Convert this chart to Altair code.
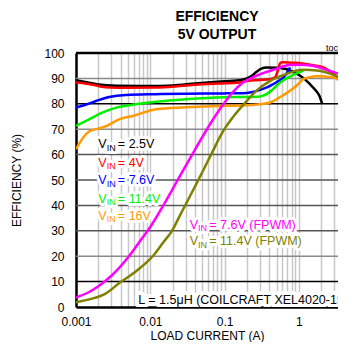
import altair as alt
import pandas as pd

# ---- data ----
black_x = [0.001, 0.0015, 0.002, 0.0035, 0.01, 0.02, 0.04, 0.08, 0.16, 0.2, 0.232, 0.265, 0.3, 0.36, 0.5, 0.67, 0.85, 1.12, 1.4, 1.7, 1.9, 2.05]
black_y = [89.3, 88.3, 87.6, 87.1, 87.0, 87.2, 88.0, 88.7, 89.3, 90.0, 91.0, 92.4, 93.6, 94.3, 94.2, 93.7, 92.5, 90.4, 87.8, 85.1, 83.0, 80.1]

red_x = [0.001, 0.0015, 0.002, 0.0025, 0.005, 0.012, 0.025, 0.04, 0.08, 0.16, 0.2, 0.3, 0.41, 0.48, 0.52, 0.56, 0.6, 0.8, 1.12, 1.7, 2.15, 2.7, 3.2, 3.6, 4.3]
red_y = [88.4, 87.8, 87.0, 86.5, 86.3, 86.4, 87.0, 87.5, 88.0, 88.4, 89.0, 89.4, 89.7, 90.5, 93.0, 96.0, 96.4, 96.2, 95.9, 95.0, 94.3, 92.5, 90.8, 89.7, 88.5]

blue_x = [0.001, 0.0014, 0.00186, 0.0028, 0.0047, 0.012, 0.03, 0.1, 0.2, 0.25, 0.3, 0.41, 0.5, 0.62, 0.7, 0.76]
blue_y = [78.5, 79.8, 81.1, 82.7, 83.5, 83.8, 84.0, 84.1, 84.3, 84.8, 85.5, 87.1, 88.5, 90.4, 92.5, 94.3]

green_x = [0.001, 0.0015, 0.0023, 0.0035, 0.0064, 0.012, 0.03, 0.1, 0.2, 0.28, 0.33, 0.4, 0.56, 0.67, 1.0, 1.15]
green_y = [71.3, 73.9, 76.6, 78.5, 79.8, 80.8, 81.8, 82.6, 82.7, 82.8, 83.2, 84.5, 88.4, 89.9, 92.4, 93.0]

orange_x = [0.001, 0.0012, 0.00154, 0.002, 0.0026, 0.0038, 0.0058, 0.012, 0.03, 0.1, 0.2, 0.3, 0.41, 0.55, 0.76, 1.0, 1.14, 1.4, 1.74, 2.9, 3.5, 4.3]
orange_y = [62.1, 66.0, 69.3, 70.2, 71.3, 73.9, 75.2, 77.9, 78.6, 79.2, 79.4, 79.8, 80.5, 82.5, 85.1, 88.0, 89.7, 90.5, 90.8, 90.4, 89.3, 87.7]

magenta_x = [0.001, 0.0015, 0.002, 0.003, 0.005, 0.0075, 0.01, 0.015, 0.025, 0.04, 0.0705, 0.1, 0.131, 0.17, 0.265, 0.49, 0.74, 1.0, 1.53, 2.56, 4.3]
magenta_y = [3.7, 5.9, 8.2, 12.3, 19.5, 26.5, 31.5, 40.0, 51.5, 62.0, 74.0, 80.5, 84.8, 88.0, 91.0, 93.7, 95.3, 95.4, 95.0, 93.0, 91.0]

olive_x = [0.001, 0.0016, 0.0025, 0.0039, 0.0065, 0.011, 0.015, 0.0196, 0.025, 0.0426, 0.065, 0.096, 0.14, 0.198, 0.265, 0.41, 0.67, 1.12, 1.88, 3.16, 4.3]
olive_y = [1.9, 3.2, 5.3, 9.6, 14.2, 20.3, 25.5, 30.0, 36.0, 49.0, 59.7, 69.3, 76.0, 81.1, 85.0, 89.0, 91.7, 93.4, 93.0, 91.0, 89.5]

series = [
    ("2.5V", black_x, black_y, "#000000"),
    ("4V", red_x, red_y, "#ff0000"),
    ("7.6V", blue_x, blue_y, "#0000ff"),
    ("11.4V", green_x, green_y, "#00ee00"),
    ("16V", orange_x, orange_y, "#ff9900"),
    ("7.6V FPWM", magenta_x, magenta_y, "#ff00ff"),
    ("11.4V FPWM", olive_x, olive_y, "#808000"),
]

# label text (V, subscript IN, rest), anchor position in data units
label_rest = ["= 2.5V", "= 4V", "= 7.6V", "= 11.4V", "= 16V", "= 7.6V (FPWM)", "= 11.4V (FPWM)"]
label_x = [0.002, 0.002, 0.002, 0.002, 0.002, 0.034, 0.034]
label_y = [64.0, 56.8, 49.9, 42.7, 36.0, 32.4, 25.8]

hgrid_vals = [10, 20, 30, 40, 50, 60, 70, 80, 90]
hgrid_cols = ["#000000", "#8a8a8a", "#555555", "#555555", "#555555", "#555555", "#8a8a8a", "#000000", "#8a8a8a"]

XMAX = 3.36
x_ticks = [m * 10 ** e for e in (-3, -2, -1, 0) for m in range(1, 10) if m * 10 ** e <= XMAX]
y_ticks = list(range(0, 101, 10))

# ---- tables ----
rows = []
for name, xs, ys, col in series:
    for i, (a, b) in enumerate(zip(xs, ys)):
        rows.append({"s": name, "i": i, "x": a, "y": b, "c": col})
df = pd.DataFrame(rows)

lab = pd.DataFrame({
    "x": label_x, "y": label_y, "rest": label_rest,
    "c": [s[3] for s in series],
})
grid = pd.DataFrame({"v": hgrid_vals, "c": hgrid_cols})
top = pd.DataFrame({"v": [100]})
note = pd.DataFrame({"x": [0.0069], "y": [2.6], "t": ["L = 1.5\u03bcH (COILCRAFT XEL4020-152ME)"]})
toc = pd.DataFrame({"x": [XMAX], "y": [102.0], "t": ["toc"]})

FONT = "Liberation Sans"

xscale = alt.Scale(type="log", domain=[0.001, XMAX], nice=False)
yscale = alt.Scale(domain=[0, 100], nice=False)

xaxis = alt.Axis(
    values=x_ticks, title="LOAD CURRENT (A)", format="~g",
    labelExpr="abs(log(datum.value)/LN10 - round(log(datum.value)/LN10)) < 1e-6 ? datum.label : ''",
    labelOverlap=False, labelFlush=False, tickSize=0, labelPadding=9, labelFontSize=12,
    labelColor="#000",
    grid=True, gridColor="#c8c8c8", gridWidth=1.5,
    domainColor="#000", domainWidth=2.5, titleFontSize=12, titleFontWeight="normal",
    titlePadding=3, titleColor="#000", labelFont=FONT, titleFont=FONT,
)
yaxis = alt.Axis(
    values=y_ticks, title="EFFICIENCY (%)", tickSize=0, labelPadding=12, labelFontSize=12,
    labelColor="#000", grid=False, domainColor="#000", domainWidth=2.5,
    titleFontSize=12, titleFontWeight="normal", titlePadding=20, titleColor="#000",
    labelFont=FONT, titleFont=FONT,
)

base_x = alt.X("x:Q", scale=xscale, axis=xaxis)
base_y = alt.Y("y:Q", scale=yscale, axis=yaxis)

hg = alt.Chart(grid).mark_rule(strokeWidth=1.5).encode(
    y=alt.Y("v:Q", scale=yscale, axis=yaxis), color=alt.Color("c:N", scale=None)
)
tp = alt.Chart(top).mark_rule(strokeWidth=2.5, color="#000").encode(
    y=alt.Y("v:Q", scale=yscale, axis=yaxis)
)

lines = alt.Chart(df).mark_line(strokeWidth=2.5, interpolate="monotone", clip=True).encode(
    x=base_x, y=base_y, detail="s:N", order="i:Q", color=alt.Color("c:N", scale=None)
)

def part(text_field, dx, dy, size, halo):
    kw = dict(align="left", baseline="middle", dx=dx, dy=dy, fontSize=size, font=FONT)
    if halo:
        kw.update(stroke="white", strokeWidth=6, strokeJoin="round", fill="white")
        enc = dict(x=base_x, y=base_y, text=text_field)
    else:
        enc = dict(x=base_x, y=base_y, text=text_field, color=alt.Color("c:N", scale=None))
    return alt.Chart(lab).mark_text(**kw).encode(**enc)

v_txt = alt.value("V")
in_txt = alt.value("IN")
parts = []
for halo in (True, False):
    parts.append(part(v_txt, 0, 0, 12.5, halo))
    parts.append(part(in_txt, 8.3, 3.5, 9, halo))
    parts.append(part("rest:N", 19.5, 0, 12.5, halo))

note_halo = alt.Chart(note).mark_text(
    align="left", baseline="middle", fontSize=12.5, font=FONT, stroke="white",
    strokeWidth=8, fill="white", strokeJoin="round", clip=True,
).encode(x=base_x, y=base_y, text="t:N")
note_txt = alt.Chart(note).mark_text(
    align="left", baseline="middle", fontSize=12.5, font=FONT, color="#000", clip=True,
).encode(x=base_x, y=base_y, text="t:N")

toc_txt = alt.Chart(toc).mark_text(
    align="right", baseline="middle", fontSize=9, font=FONT, color="#000",
).encode(x=base_x, y=base_y, text="t:N")

chart = alt.layer(
    hg, tp, lines, *parts, note_halo, note_txt, toc_txt
).properties(
    width=262, height=254,
    title=alt.Title(
        text=["EFFICIENCY", "5V OUTPUT"], fontSize=14, fontWeight="bold", font=FONT,
        anchor="middle", dx=10, offset=2, lineHeight=18, color="#000",
    ),
    autosize=alt.AutoSizeParams(type="none"),
    padding={"left": 68, "top": 45, "right": 0, "bottom": 35},
).configure_view(stroke=None).configure(background="white")

chart.save("out.html", embed_options={"renderer": "svg", "actions": False})
